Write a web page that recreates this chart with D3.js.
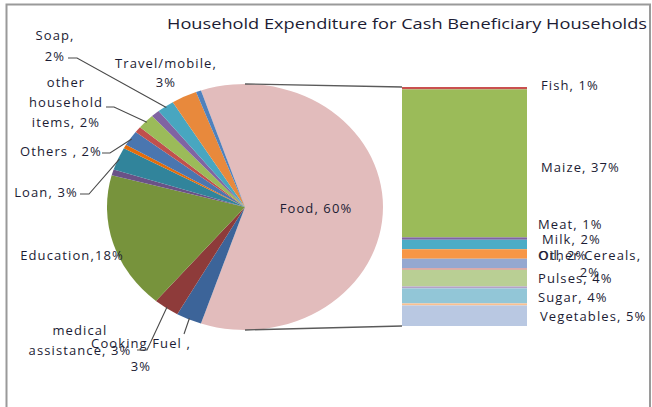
<!DOCTYPE html>
<html>
<head>
<meta charset="utf-8">
<script src="https://cdn.jsdelivr.net/npm/d3@7.9.0/dist/d3.min.js"></script>
<style>
  body { margin: 0; background: #fff; }
  svg text { font-family: "Open Sans", sans-serif; fill: #1c1c34; }
</style>
</head>
<body>
<div id="chart"></div>
<script>
const title = 'Household Expenditure for Cash Beneficiary Households';

// slices of the pie, percent of all spending (food is split out into the bar)
const pieCategories = ['Cooking Fuel ', 'medical assistance', 'Education', '', 'Loan', '', 'Others ', '', 'other household items', '', 'Soap', 'Travel/mobile', ''];
const pieValues = [3, 3, 18, 0.8, 3, 0.5, 2, 0.8, 2, 1, 2, 3, 0.6];

// what the food slice is made of, percent of all spending
const foodCategory = 'Food';
const barCategories = ['Fish', 'Maize', 'Meat', 'Milk', 'Oil', 'Other Cereals', '', 'Pulses', '', 'Sugar', '', 'Vegetables'];
const barValues = [0.6, 37.4, 0.6, 2.4, 2.4, 2.4, 0.4, 4.2, 0.5, 3.8, 0.5, 5.2];

const pieColors = ['#3c6499', '#8e3b3a', '#77933c', '#6a5287', '#31849b', '#e46c0a', '#4a76b0', '#c0504d', '#9bbb59', '#8064a2', '#48a6c0', '#e8893c', '#4f81bd'];
const foodColor = '#e2bcbc';
const barColors = ['#c9504f', '#9bbb59', '#8064a2', '#4bacc6', '#f79646', '#95a8d0', '#d99694', '#b9cf94', '#b3a2c7', '#92c6d7', '#fac090', '#b9c8e2'];

const width = 652;
const height = 407;

const svg = d3.select('#chart')
  .append('svg')
  .attr('width', width)
  .attr('height', height);

// chart area border
svg.append('rect')
  .attr('x', 6.5).attr('y', 4.5)
  .attr('width', 643.5).attr('height', 420)
  .attr('fill', '#fff')
  .attr('stroke', '#9a9a9a')
  .attr('stroke-width', 2);

svg.append('text')
  .attr('x', 167).attr('y', 29)
  .attr('font-size', 14)
  .attr('textLength', 480)
  .attr('lengthAdjust', 'spacingAndGlyphs')
  .text(title);

// pie (the picture is a bit stretched sideways, so it is an ellipse)
const cx = 245, cy = 207, rx = 138, ry = 123;
const slices = [{ name: foodCategory, value: d3.sum(barValues), color: foodColor }]
  .concat(pieCategories.map((name, i) => ({ name, value: pieValues[i], color: pieColors[i] })));
const total = d3.sum(slices, d => d.value);
const foodAngle = slices[0].value / total * 2 * Math.PI;
const start = Math.PI / 2 - foodAngle / 2; // food slice faces the bar

const pie = d3.pie()
  .sort(null)
  .value(d => d.value)
  .startAngle(start)
  .endAngle(start + 2 * Math.PI);
const arcs = pie(slices);
const arc = d3.arc().innerRadius(0).outerRadius(ry);

svg.append('g')
  .attr('transform', `translate(${cx},${cy}) scale(${rx / ry},1)`)
  .selectAll('path')
  .data(arcs)
  .join('path')
  .attr('d', arc)
  .attr('fill', d => d.data.color);

const edge = (a, k = 1) => [cx + Math.sin(a) * rx * k, cy - Math.cos(a) * ry * k];
const pct = v => Math.round(v / total * 100);

// bar of the food items, stacked from the top
const barX = d3.scaleBand().domain([foodCategory]).range([402, 527]).padding(0);
const barY = d3.scaleLinear().domain([0, d3.sum(barValues)]).range([87, 326]);
const stacked = [];
let acc = 0;
barCategories.forEach((name, i) => {
  stacked.push({ name, value: barValues[i], y0: acc, y1: acc + barValues[i], color: barColors[i] });
  acc += barValues[i];
});

svg.append('g')
  .selectAll('rect')
  .data(stacked)
  .join('rect')
  .attr('x', barX(foodCategory))
  .attr('width', barX.bandwidth())
  .attr('y', d => barY(d.y0))
  .attr('height', d => barY(d.y1) - barY(d.y0))
  .attr('fill', d => d.color);

// lines joining the pie to the bar
const [bx0, by0, by1] = [barX(foodCategory), barY(0), barY(d3.sum(barValues))];
svg.append('g')
  .attr('stroke', '#5a5a5a')
  .attr('stroke-width', 1.3)
  .selectAll('line')
  .data([[edge(0), [bx0, by0]], [edge(Math.PI), [bx0, by1]]])
  .join('line')
  .attr('x1', d => d[0][0]).attr('y1', d => d[0][1])
  .attr('x2', d => d[1][0]).attr('y2', d => d[1][1]);

// label placement, as the labels were dragged in the original
const pieLabels = {
  'Food': { x: 316, y: 213, wrap: [2] },
  'Cooking Fuel ': { x: 141, y: 348, lh: 23, wrap: [3, 1], leader: [[184, 334]] },
  'medical assistance': { x: 80, y: 335, lh: 20, wrap: [1, 2], leader: [[137, 350], [147, 350]] },
  'Education': { x: 72, y: 259.5, sep: ',', wrap: [1] },
  'Loan': { x: 46, y: 196.5, wrap: [2], leader: [[80, 194], [89, 194]] },
  'Others ': { x: 61, y: 155.5, wrap: [3], leader: [[102, 153], [110, 153]] },
  'other household items': { x: 66, y: 87, lh: 20, wrap: [1, 1, 2], leader: [[106, 107], [114, 107]] },
  'Soap': { x: 55, y: 39.5, lh: 21.5, wrap: [1, 1], leader: [[68, 58], [77, 58]] },
  'Travel/mobile': { x: 166, y: 68, lh: 19, wrap: [1, 1] }
};

const barLabels = {
  'Fish': { x: 541, y: 90 },
  'Maize': { x: 541, y: 171.5 },
  'Meat': { x: 538, y: 228.5 },
  'Milk': { x: 542, y: 244 },
  'Oil': { x: 538, y: 260 },
  'Other Cereals': { x: 590, y: 260, lh: 17, wrap: [2, 1], anchor: 'middle' },
  'Pulses': { x: 538, y: 283 },
  'Sugar': { x: 538, y: 302 },
  'Vegetables': { x: 540, y: 320.5 }
};

function splitLines(text, wrap) {
  const words = text.split(' ');
  if (!wrap) return [text];
  const lines = [];
  let k = 0;
  wrap.forEach(n => { lines.push(words.slice(k, k + n).join(' ')); k += n; });
  if (k < words.length) lines[lines.length - 1] += ' ' + words.slice(k).join(' ');
  return lines;
}

function drawLabel(g, text, L, anchor) {
  const lines = splitLines(text, L.wrap);
  const t = g.append('text')
    .attr('font-size', 13)
    .attr('letter-spacing', 1.1)
    .attr('text-anchor', anchor)
    .attr('x', L.x)
    .attr('y', L.y);
  lines.forEach((line, i) => {
    t.append('tspan').attr('x', L.x).attr('y', L.y + i * (L.lh || 20)).text(line);
  });
}

const labelG = svg.append('g');
const leaderG = svg.append('g')
  .attr('fill', 'none')
  .attr('stroke', '#4a4a4a')
  .attr('stroke-width', 1.1);

arcs.forEach(a => {
  const L = pieLabels[a.data.name];
  if (!L) return;
  const text = `${a.data.name}${L.sep || ', '}${pct(a.data.value)}%`;
  drawLabel(labelG, text, L, 'middle');
  if (L.leader) {
    const mid = (a.startAngle + a.endAngle) / 2;
    leaderG.append('path').attr('d', d3.line()(L.leader.concat([edge(mid, 0.99)])));
  }
});

stacked.forEach(d => {
  const L = barLabels[d.name];
  if (!L) return;
  drawLabel(labelG, `${d.name}, ${pct(d.value)}%`, L, L.anchor || 'start');
});
</script>
</body>
</html>
